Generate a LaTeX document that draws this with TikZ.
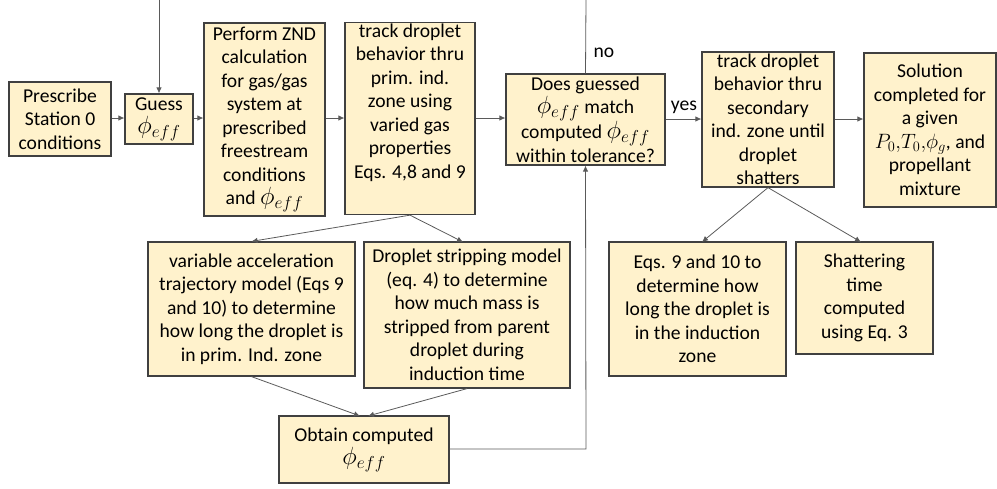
\documentclass[tikz,border=0pt]{standalone}
\usepackage{fontspec}
\usepackage{graphicx}
\setmainfont{Carlito}
\usetikzlibrary{arrows.meta}
\definecolor{boxfill}{HTML}{FFF2CC}
\definecolor{boxline}{HTML}{404040}
\definecolor{conn}{HTML}{5A5A5A}
\newcommand{\peff}{\scalebox{1.2}{$\phi_{eff}$}}
\tikzset{
  stepbox/.style={draw=boxline, line width=1.2pt, fill=boxfill, align=center,
    inner sep=1pt, font=\fontsize{19.6}{23.5}\selectfont},
  conn/.style={draw=conn, line width=0.8pt},
  arr/.style={conn, -{Latex[length=6pt,width=5.5pt]}},
  lbl/.style={font=\fontsize{19.6}{23.5}\selectfont, inner sep=0pt}
}
\begin{document}
\begin{tikzpicture}[x=1pt,y=-1pt]
\useasboundingbox (0,0) rectangle (997,488);
\node[stepbox, minimum width=102pt, minimum height=74pt] (pres) at (60,119) {Prescribe\\Station 0\\conditions};
\node[stepbox, minimum width=68pt, minimum height=50pt] (guess) at (159,119) {Guess\\\peff};
\node[stepbox, minimum width=121pt, minimum height=193pt] (znd) at (264.5,119.5) {Perform ZND\\calculation\\for gas/gas\\system at\\prescribed\\freestream\\conditions\\and \peff};
\node[stepbox, minimum width=130pt, minimum height=187pt] (track) at (410,118.5) {track droplet\\behavior thru\\prim. ind.\\zone using\\varied gas\\properties\\Eqs. 4,8 and 9\\[12pt]};
\node[stepbox, minimum width=159pt, minimum height=91pt] (dec) at (585.5,119.5) {Does guessed\\\peff{} match\\computed \peff\\within tolerance?};
\node[stepbox, minimum width=132pt, minimum height=135pt] (sec) at (768,119.5) {track droplet\\behavior thru\\secondary\\ind. zone until\\droplet\\shatters};
\node[stepbox, minimum width=132pt, minimum height=154pt] (sol) at (930,130) {Solution\\completed for\\a given\\$P_0,\!T_0,\!\phi_g$, and\\propellant\\mixture};
\node[stepbox, minimum width=207pt, minimum height=134pt] (var) at (251.5,309) {variable acceleration\\trajectory model (Eqs 9\\and 10) to determine\\how long the droplet is\\in prim. Ind. zone};
\node[stepbox, minimum width=206pt, minimum height=146pt] (strip) at (467,315) {Droplet stripping model\\(eq. 4) to determine\\how much mass is\\stripped from parent\\droplet during\\induction time};
\node[stepbox, minimum width=170pt, minimum height=67pt] (obt) at (364,449.5) {Obtain computed\\\peff};
\node[stepbox, minimum width=177pt, minimum height=134pt] (eqs) at (697.5,309) {Eqs. 9 and 10 to\\determine how\\long the droplet is\\in the induction\\zone};
\node[stepbox, minimum width=137pt, minimum height=112pt] (shat) at (864.5,298) {Shattering\\time\\computed\\using Eq. 3};
\coordinate (topin) at (159,0);
\coordinate (topout) at (586,0);
\coordinate (corner) at (586,449);
\node[lbl] (no) at (604,53) {no};
\node[lbl] (yes) at (684,107) {yes};
% connectors
\draw[arr] (pres.east |- 0,118) -- (guess.west |- 0,118);
\draw[arr] (guess.east |- 0,118) -- (znd.west |- 0,118);
\draw[arr] (znd.east |- 0,118) -- (track.west |- 0,118);
\draw[arr] (track.east |- 0,118) -- (dec.west |- 0,118);
\draw[arr] (dec.east |- 0,119) -- (sec.west |- 0,119);
\draw[arr] (sec.east |- 0,119) -- (sol.west |- 0,119);
\draw[arr] (topin) -- (guess.north);
\draw[conn] (dec.north) -- (topout);
\draw[arr] (obt.east |- corner) -- (corner) -- (dec.south);
\draw[arr] (track.south) -- (var.north);
\draw[arr] (track.south) -- (463,242);
\draw[arr] (var.south) -- (360,416);
\draw[arr] (strip.south) -- (368,416);
\draw[arr] (sec.south) -- (702,242);
\draw[arr] (sec.south) -- (861,242);
\end{tikzpicture}
\end{document}
